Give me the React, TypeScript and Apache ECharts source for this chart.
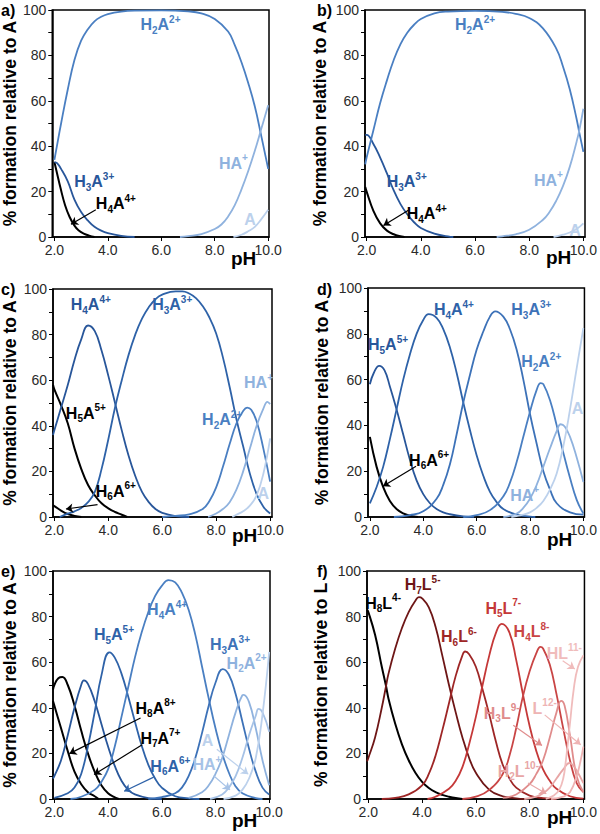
import React, { useEffect, useRef } from "react";
import * as echarts from "echarts";

// ---------------- Panel a ----------------
const aH4A = [[2.0,33],[2.1,28],[2.22,22],[2.4,14],[2.57,8.8],[2.75,5],[2.9,3],[3.1,1.5],[3.3,0.6],[3.5,0]];
const aH3A = [[2.0,33],[2.1,32.5],[2.25,30],[2.5,24.5],[2.75,16.5],[3.0,11],[3.25,7.3],[3.5,4.5],[3.75,2.8],[4.0,1.7],[4.5,0.5],[5.0,0]];
const aH2A = [[2.0,34],[2.25,50],[2.5,65],[2.75,78],[3.0,86.5],[3.25,91.5],[3.5,95],[3.75,97],[4.0,98.2],[4.5,99.3],[5.0,99.7],[6.0,99.8],[7.0,99.4],[7.5,98.5],[8.0,96],[8.5,90.5],[8.75,84.5],[9.0,77],[9.25,68],[9.5,57.5],[9.75,44],[10.0,30]];
const aHA = [[6.7,0],[7.0,0.4],[7.5,1.3],[8.0,3.5],[8.25,5.5],[8.5,9],[8.75,14],[9.0,21],[9.25,29],[9.5,38],[9.75,48],[10.0,58]];
const aA = [[8.7,0],[9.0,1],[9.25,2.5],[9.5,4.5],[9.75,8],[10.0,12]];

// ---------------- Panel b ----------------
const bH4A = [[1.95,22],[2.0,20],[2.25,11.5],[2.5,6],[2.75,2.8],[3.0,1.2],[3.2,0.4],[3.4,0]];
const bH3A = [[1.95,45],[2.0,45],[2.25,41],[2.5,35],[2.75,28],[3.0,20.5],[3.25,14.5],[3.5,10],[3.75,6.5],[4.0,4],[4.5,1.5],[5.0,0.3],[5.2,0]];
const bH2A = [[1.95,32],[2.0,35],[2.25,47],[2.5,59],[2.75,69],[3.0,78],[3.25,85],[3.5,90],[3.75,93.5],[4.0,96],[4.5,98.5],[5.0,99.3],[6.0,99.6],[7.0,99.2],[7.5,98.3],[8.0,96.5],[8.5,92],[9.0,83],[9.25,75],[9.5,65],[9.75,52],[9.85,46],[10.0,37.5]];
const bHA = [[6.8,0],[7.0,0.3],[7.5,1.2],[8.0,3.2],[8.5,7.5],[8.75,11],[9.0,16],[9.25,22.5],[9.5,31],[9.75,42],[9.85,47],[10.0,56.5]];
const bA = [[8.9,0],[9.25,1],[9.5,2],[9.75,3.5],[10.0,6]];

// ---------------- Panel c ----------------
const cH6A = [[1.95,5],[2.0,4.8],[2.25,2.8],[2.5,1.3],[2.75,0.5],[3.0,0]];
const cH5A = [[1.95,58],[2.0,56],[2.25,49],[2.5,41],[2.75,30],[3.0,21],[3.25,14],[3.5,9.5],[3.75,6],[4.0,3.8],[4.25,2.2],[4.5,1],[4.7,0]];
const cH4A = [[1.95,36],[2.0,38],[2.25,48],[2.5,58],[2.75,69],[3.0,78],[3.25,84],[3.5,81.5],[3.75,73],[4.0,62],[4.25,50],[4.5,38],[4.75,27],[5.0,18],[5.25,11],[5.5,6.5],[5.75,3.5],[6.0,1.8],[6.5,0.4],[7.0,0]];
const cH3A = [[2.2,0],[2.5,1.5],[2.75,2.5],[3.0,4],[3.25,6.5],[3.5,11],[3.75,21],[4.0,34],[4.25,48],[4.5,60],[4.75,71],[5.0,80],[5.25,87],[5.5,92],[5.75,95.5],[6.0,97.5],[6.5,99],[6.75,99],[7.0,98],[7.25,96],[7.5,92.5],[7.75,87.5],[8.0,80.5],[8.25,70],[8.5,57],[8.75,43],[9.0,31],[9.25,19],[9.5,10],[9.75,4.5],[10.0,1.5]];
const cH2A = [[6.0,0],[6.5,0.5],[7.0,1.2],[7.5,3.5],[7.75,7],[8.0,13],[8.25,22],[8.5,32],[8.75,41],[9.0,46.5],[9.15,48],[9.3,47],[9.5,42],[9.75,30],[10.0,15.5]];
const cHA = [[7.7,0],[8.0,1.5],[8.25,3.5],[8.5,6.5],[8.75,12],[9.0,20],[9.25,30],[9.5,40],[9.75,47.5],[9.9,50.5],[10.0,49.5]];
const cA = [[8.6,0],[8.75,1],[9.0,2.5],[9.25,5],[9.5,9.5],[9.75,19],[10.0,34.5]];

// ---------------- Panel d ----------------
const dH6A = [[2.0,35],[2.25,22],[2.5,13],[2.75,7],[3.0,3.5],[3.25,1.6],[3.5,0.6],[3.8,0]];
const dH5A = [[2.0,58],[2.15,63],[2.35,66],[2.55,64],[2.75,57],[3.0,47],[3.25,36],[3.5,25],[3.75,16],[4.0,10],[4.25,6],[4.5,3.5],[4.75,2],[5.0,1.2],[5.5,0.3],[5.9,0]];
const dH4A = [[2.0,6],[2.25,13],[2.5,22],[2.75,34],[3.0,47],[3.25,60],[3.5,71],[3.75,80],[4.0,86],[4.2,88.6],[4.5,87],[4.75,82],[5.0,74],[5.25,63],[5.5,50],[5.75,38],[6.0,27],[6.25,18],[6.5,11],[6.75,6.5],[7.0,3.5],[7.5,1],[8.0,0.2],[8.2,0]];
const dH3A = [[2.9,0],[3.5,0.8],[4.0,2.5],[4.5,8],[4.75,14],[5.0,23],[5.25,36],[5.5,50],[5.75,62],[6.0,73],[6.25,81],[6.5,87.5],[6.7,89.8],[7.0,87.5],[7.25,82],[7.5,73],[7.75,60],[8.0,45],[8.25,32],[8.5,20],[8.75,12],[9.0,6],[9.5,2],[10.0,1]];
const dH2A = [[5.5,0],[6.0,0.8],[6.5,3],[7.0,9],[7.25,15],[7.5,24],[7.75,35],[8.0,46],[8.25,55.5],[8.4,58.5],[8.5,58],[8.75,51],[9.0,40],[9.25,28],[9.5,17],[9.75,7.5],[10.0,1.5]];
const dHA = [[7.0,0],[7.5,1.5],[7.75,4],[8.0,8],[8.25,14],[8.5,22],[8.75,30],[9.0,37.5],[9.15,40.5],[9.3,39.5],[9.5,35],[9.75,26],[10.0,15.3]];
const dA = [[7.3,0],[7.75,1],[8.0,2],[8.25,4],[8.5,7],[8.75,12],[9.0,19],[9.25,31],[9.5,47],[9.75,65],[10.0,82.5]];

// ---------------- Panel e ----------------
const eH8A = [[1.95,43],[2.0,41],[2.25,31],[2.5,21],[2.75,12],[3.0,6.5],[3.25,3],[3.5,1.2],[3.65,0]];
const eH7A = [[1.95,48],[2.0,50],[2.15,53],[2.3,53.5],[2.5,50],[2.75,41],[3.0,30],[3.25,20],[3.5,12],[3.75,6],[4.0,2.5],[4.2,1],[4.4,0]];
const eH6A = [[1.95,9],[2.0,10],[2.25,17],[2.5,28],[2.75,40],[3.0,50],[3.1,52],[3.25,50.5],[3.5,43],[3.75,33],[4.0,23],[4.25,14.5],[4.5,8],[4.75,4],[5.0,2],[5.5,0.4],[6.0,0]];
const eH5A = [[2.0,0.5],[2.5,2.5],[2.75,5],[3.0,11],[3.25,23],[3.5,38],[3.75,54],[4.05,64.3],[4.25,62],[4.5,55],[4.75,45],[5.0,34],[5.25,23.5],[5.5,15],[5.75,9],[6.0,5],[6.5,1.2],[7.0,0.3],[7.4,0]];
const eH4A = [[2.6,0],[3.0,1],[3.5,4],[3.75,7.5],[4.0,13],[4.25,23],[4.5,36],[4.75,49],[5.0,62],[5.25,73],[5.5,82],[5.75,89],[6.0,93.5],[6.25,96],[6.5,95],[6.75,90.5],[7.0,83],[7.25,72],[7.5,58],[7.75,44],[8.0,31],[8.25,20],[8.5,11.5],[8.75,5.5],[9.0,2.5],[9.5,0.4],[9.75,0]];
const eH3A = [[5.5,0],[6.0,0.8],[6.5,2.5],[6.75,5],[7.0,10],[7.25,18],[7.5,29],[7.75,41],[8.0,51],[8.27,57],[8.5,54.5],[8.75,46],[9.0,34],[9.25,22],[9.5,12],[9.75,5],[10.0,2]];
const eH2A = [[7.0,0.5],[7.5,3],[7.75,6],[8.0,11],[8.25,18],[8.5,28],[8.75,38],[9.0,45.5],[9.05,45.7],[9.25,42.5],[9.5,31],[9.75,17],[10.0,6]];
const eHA = [[7.8,0],[8.25,2],[8.5,5],[8.75,10],[9.0,18],[9.25,28],[9.5,36.5],[9.6,39.5],[9.75,38],[10.0,29.5]];
const eA = [[8.3,0],[8.75,1.5],[9.0,4],[9.25,9],[9.5,18],[9.75,37],[10.0,64.5]];

// ---------------- Panel f ----------------
const fH8L = [[1.95,83],[2.0,82],[2.25,72],[2.5,58],[2.65,50],[2.75,44],[3.0,33],[3.25,24],[3.5,17],[3.75,11.5],[4.0,7.5],[4.25,4.8],[4.5,3],[4.75,1.8],[5.0,1],[5.25,0.4],[5.5,0]];
const fH7L = [[1.95,16.5],[2.0,18],[2.25,27],[2.5,40],[2.65,49],[2.75,55],[3.0,66],[3.25,75],[3.5,82],[3.75,87],[3.88,88.5],[4.0,88],[4.25,84],[4.5,75.5],[4.75,63],[5.0,50],[5.25,38],[5.5,27],[5.75,18],[6.0,11.5],[6.5,4],[7.0,1.2],[7.5,0.3],[7.8,0]];
const fH6L = [[2.5,0],[3.0,0.5],[3.5,2],[4.0,6],[4.25,11],[4.5,19],[4.75,30],[5.0,42],[5.25,54],[5.5,63],[5.6,64.7],[5.75,63.5],[6.0,58],[6.25,48],[6.5,37],[6.75,25],[7.0,15],[7.25,9],[7.5,5],[8.0,1.5],[8.5,0.4],[9.0,0]];
const fH5L = [[4.2,0],[4.5,1],[5.0,4.5],[5.25,8],[5.5,14],[5.75,24],[6.0,36],[6.25,50],[6.5,63],[6.75,73],[6.96,76.8],[7.25,73],[7.5,61],[7.75,46],[8.0,32],[8.25,21],[8.5,13],[8.75,8],[9.0,4.5],[9.5,1.2],[10.0,0.2]];
const fH4L = [[5.5,0],[6.0,1],[6.5,4],[7.0,11],[7.25,19],[7.5,31],[7.75,45],[8.0,56],[8.25,64],[8.4,66.7],[8.5,66],[8.75,59],[9.0,46],[9.25,31],[9.5,17],[9.75,7],[10.0,3]];
const fH3L = [[7.0,0.5],[7.5,2],[8.0,6.5],[8.25,11],[8.5,17],[8.75,27],[9.0,38],[9.17,43],[9.3,41],[9.5,28],[9.75,10],[10.0,3]];
const fH2L = [[7.8,0],[8.25,1],[8.5,2.5],[8.75,5],[9.0,9],[9.25,13],[9.48,15.8],[9.6,15],[9.75,12.5],[10.0,7]];
const fHL = [[8.6,0],[8.9,1.5],[9.1,4],[9.25,9],[9.35,17],[9.5,33],[9.65,49],[9.8,58],[10.0,63]];
const fL = [[8.8,0],[9.25,1],[9.5,3],[9.75,10],[9.9,17],[10.0,23]];

// ---------------- styling ----------------
const FONT = '"Liberation Sans", Arial, Helvetica, sans-serif';
const BLACK = "#000000";
const B1 = "#28569a";
const B2 = "#2e62a8";
const B3 = "#3d72b8";
const B4 = "#4a7fc2";
const BL1 = "#8fb2de";
const BL2 = "#a6c2e6";
const BL3 = "#bcd1ec";
const R1 = "#6e1616";
const R2 = "#9e2626";
const R3 = "#c53838";
const R4 = "#c94545";
const P1 = "#e08c8c";
const P2 = "#e8a6a6";
const P3 = "#f0bcbc";
const P4 = "#eeb4b4";

type Curve = { data: number[][]; color: string; width?: number };
type Lbl = { parts: string[]; x: number; y: number; color: string };
type Arrow = { from: number[]; to: number[]; color: string };
type Panel = {
  tag: string; tagX: number; tagY: number; phX: number; phY: number;
  grid: { left: number; top: number; width: number; height: number };
  xMin: number; xMax: number; yName: string; nameGap: number;
  curves: Curve[]; labels: Lbl[]; arrows: Arrow[];
};

const panels: Panel[] = [
  {
    tag: "a)", tagX: 1, tagY: 2, phX: 231, phY: 249,
    grid: { left: 51, top: 10, width: 218, height: 227 }, xMin: 1.92, xMax: 10.03,
    yName: "% formation relative to A", nameGap: 33,
    curves: [
      { data: aH4A, color: BLACK, width: 2 }, { data: aH3A, color: B1 }, { data: aH2A, color: B4 },
      { data: aHA, color: BL1 }, { data: aA, color: BL3 },
    ],
    labels: [
      { parts: ["H", "_2", "A", "^2+"], x: 5.97, y: 93.4, color: B4 },
      { parts: ["H", "_3", "A", "^3+"], x: 3.49, y: 24.3, color: B1 },
      { parts: ["H", "_4", "A", "^4+"], x: 4.3, y: 14.7, color: BLACK },
      { parts: ["HA", "^+"], x: 8.7, y: 32.4, color: BL1 },
      { parts: ["A"], x: 9.32, y: 7.6, color: BL3 },
    ],
    arrows: [{ from: [3.55, 12], to: [2.62, 5.6], color: BLACK }],
  },
  {
    tag: "b)", tagX: 317, tagY: 2, phX: 546, phY: 248,
    grid: { left: 365, top: 10, width: 220, height: 227 }, xMin: 1.94, xMax: 10.06,
    yName: "% formation relative to A", nameGap: 36,
    curves: [
      { data: bH4A, color: BLACK, width: 2 }, { data: bH3A, color: B1 }, { data: bH2A, color: B4 },
      { data: bHA, color: BL1 }, { data: bA, color: BL3 },
    ],
    labels: [
      { parts: ["H", "_2", "A", "^2+"], x: 6.0, y: 93.4, color: B4 },
      { parts: ["H", "_3", "A", "^3+"], x: 3.48, y: 24.3, color: B1 },
      { parts: ["H", "_4", "A", "^4+"], x: 4.22, y: 10.3, color: BLACK },
      { parts: ["HA", "^+"], x: 8.71, y: 25, color: BL1 },
      { parts: ["A"], x: 9.69, y: 2.9, color: BL3 },
    ],
    arrows: [{ from: [3.54, 11.8], to: [2.62, 5.1], color: BLACK }],
  },
  {
    tag: "c)", tagX: 1, tagY: 281, phX: 232, phY: 526,
    grid: { left: 52, top: 289, width: 220, height: 228 }, xMin: 1.95, xMax: 10.07,
    yName: "% formation relative to A", nameGap: 34,
    curves: [
      { data: cH6A, color: BLACK, width: 2 }, { data: cH5A, color: BLACK, width: 2 },
      { data: cH4A, color: B1 }, { data: cH3A, color: B2 }, { data: cH2A, color: B4 },
      { data: cHA, color: BL1 }, { data: cA, color: BL3 },
    ],
    labels: [
      { parts: ["H", "_4", "A", "^4+"], x: 3.35, y: 93, color: B1 },
      { parts: ["H", "_3", "A", "^3+"], x: 6.37, y: 93, color: B2 },
      { parts: ["H", "_5", "A", "^5+"], x: 3.17, y: 45.6, color: BLACK },
      { parts: ["H", "_6", "A", "^6+"], x: 4.28, y: 11.3, color: BLACK },
      { parts: ["H", "_2", "A", "^2+"], x: 8.22, y: 42.7, color: B4 },
      { parts: ["HA", "^+"], x: 9.57, y: 58.8, color: BL1 },
      { parts: ["A"], x: 9.75, y: 10.5, color: BL3 },
    ],
    arrows: [{ from: [3.6, 5.4], to: [2.43, 3.5], color: BLACK }],
  },
  {
    tag: "d)", tagX: 317, tagY: 281, phX: 547, phY: 530,
    grid: { left: 368, top: 288, width: 219, height: 229 }, xMin: 1.93, xMax: 10.04,
    yName: "% formation relative to A", nameGap: 37,
    curves: [
      { data: dH6A, color: BLACK, width: 2 }, { data: dH5A, color: B1 }, { data: dH4A, color: B2 },
      { data: dH3A, color: B3 }, { data: dH2A, color: B4 }, { data: dHA, color: BL1 }, { data: dA, color: BL3 },
    ],
    labels: [
      { parts: ["H", "_5", "A", "^5+"], x: 2.68, y: 75.2, color: B1 },
      { parts: ["H", "_4", "A", "^4+"], x: 5.15, y: 90.5, color: B2 },
      { parts: ["H", "_3", "A", "^3+"], x: 8.05, y: 90.5, color: B3 },
      { parts: ["H", "_2", "A", "^2+"], x: 8.42, y: 67.9, color: B4 },
      { parts: ["A"], x: 9.78, y: 47.4, color: BL3 },
      { parts: ["HA", "^+"], x: 7.8, y: 9.5, color: BL1 },
      { parts: ["H", "_6", "A", "^6+"], x: 4.22, y: 24.8, color: BLACK },
    ],
    arrows: [{ from: [3.73, 22.2], to: [2.49, 13.4], color: BLACK }],
  },
  {
    tag: "e)", tagX: 1, tagY: 563, phX: 232, phY: 811,
    grid: { left: 52, top: 571, width: 218, height: 228 }, xMin: 1.95, xMax: 10.03,
    yName: "% formation relative to A", nameGap: 34,
    curves: [
      { data: eH8A, color: BLACK, width: 2 }, { data: eH7A, color: BLACK, width: 2 },
      { data: eH6A, color: B1 }, { data: eH5A, color: B2 }, { data: eH4A, color: B4 },
      { data: eH3A, color: B3 }, { data: eH2A, color: BL1 }, { data: eHA, color: BL2 }, { data: eA, color: BL3 },
    ],
    labels: [
      { parts: ["H", "_5", "A", "^5+"], x: 4.22, y: 72, color: B2 },
      { parts: ["H", "_4", "A", "^4+"], x: 6.2, y: 83, color: B4 },
      { parts: ["H", "_3", "A", "^3+"], x: 8.54, y: 67.6, color: B3 },
      { parts: ["H", "_2", "A", "^2+"], x: 9.16, y: 59.6, color: BL1 },
      { parts: ["H", "_8", "A", "^8+"], x: 5.77, y: 39.9, color: BLACK },
      { parts: ["H", "_7", "A", "^7+"], x: 5.95, y: 26.7, color: BLACK },
      { parts: ["H", "_6", "A", "^6+"], x: 6.32, y: 14.3, color: B2 },
      { parts: ["A"], x: 7.7, y: 25.5, color: BL3 },
      { parts: ["HA", "^+"], x: 7.68, y: 15, color: BL2 },
    ],
    arrows: [
      { from: [5.21, 35.5], to: [2.56, 19.9], color: BLACK },
      { from: [5.27, 23.8], to: [3.48, 10.7], color: BLACK },
      { from: [5.7, 9.6], to: [4.6, 3.4], color: B2 },
      { from: [8.05, 21.8], to: [9.22, 10.9], color: BL3 },
      { from: [7.93, 10.2], to: [8.54, 4], color: BL2 },
    ],
  },
  {
    tag: "f)", tagX: 317, tagY: 563, phX: 547, phY: 808,
    grid: { left: 367, top: 571, width: 220, height: 228 }, xMin: 1.95, xMax: 10.04,
    yName: "% formation relative to L", nameGap: 37,
    curves: [
      { data: fH8L, color: BLACK, width: 2 }, { data: fH7L, color: R1 }, { data: fH6L, color: R2 },
      { data: fH5L, color: R3 }, { data: fH4L, color: R4 }, { data: fH3L, color: P1 },
      { data: fH2L, color: P2 }, { data: fHL, color: P3 }, { data: fL, color: P4 },
    ],
    labels: [
      { parts: ["H", "_8", "L", "^4-"], x: 2.55, y: 85.8, color: BLACK },
      { parts: ["H", "_7", "L", "^5-"], x: 4.02, y: 93.9, color: R1 },
      { parts: ["H", "_6", "L", "^6-"], x: 5.37, y: 71.2, color: R2 },
      { parts: ["H", "_5", "L", "^7-"], x: 7.02, y: 83.6, color: R3 },
      { parts: ["H", "_4", "L", "^8-"], x: 8.07, y: 73.4, color: R4 },
      { parts: ["HL", "^11-"], x: 9.29, y: 64, color: P3 },
      { parts: ["H", "_3", "L", "^9-"], x: 6.96, y: 37.7, color: P1 },
      { parts: ["L", "^12-"], x: 8.56, y: 39.9, color: P4 },
      { parts: ["H", "_2", "L", "^10-"], x: 7.58, y: 12.1, color: P2 },
    ],
    arrows: [
      { from: [9.23, 60.6], to: [9.68, 57], color: P3 },
      { from: [7.39, 32.3], to: [8.46, 23.5], color: P1 },
      { from: [8.56, 36.9], to: [9.9, 23.8], color: P4 },
      { from: [7.94, 7], to: [8.62, 2.3], color: P2 },
    ],
  },
];

const fmt = (parts: string[]) =>
  parts
    .map((p) => (p[0] === "_" ? `{s|${p.slice(1)}}` : p[0] === "^" ? `{p|${p.slice(1)}}` : `{m|${p}}`))
    .join("");

const richFor = (color: string) => ({
  m: { fontSize: 16, fontWeight: "bold", color, fontFamily: FONT, lineHeight: 21 },
  s: { fontSize: 10, fontWeight: "bold", color, fontFamily: FONT, verticalAlign: "bottom", lineHeight: 13 },
  p: { fontSize: 10, fontWeight: "bold", color, fontFamily: FONT, verticalAlign: "top", lineHeight: 12 },
});

function buildOption() {
  const grid: any[] = [];
  const xAxis: any[] = [];
  const yAxis: any[] = [];
  const series: any[] = [];
  const graphic: any[] = [];

  panels.forEach((p, i) => {
    grid.push({ ...p.grid, show: true, borderColor: "#000", borderWidth: 1.5, backgroundColor: "transparent" });
    xAxis.push({
      type: "value", gridIndex: i, min: p.xMin, max: p.xMax,
      axisLine: { show: true, onZero: false, lineStyle: { color: "#000", width: 1.5 } },
      axisTick: { show: true, customValues: [2, 4, 6, 8, 10], length: 4, lineStyle: { color: "#000" } },
      axisLabel: {
        customValues: [2, 4, 6, 8, 10], formatter: (v: number) => v.toFixed(1),
        fontSize: 14, color: "#2a2a2a", fontFamily: FONT, margin: 6,
      },
      splitLine: { show: false },
    });
    yAxis.push({
      type: "value", gridIndex: i, min: 0, max: 100, interval: 10,
      axisLine: { show: true, lineStyle: { color: "#000", width: 1.5 } },
      axisTick: { show: true, length: 4, lineStyle: { color: "#000" } },
      axisLabel: {
        formatter: (v: number) => (v % 20 === 0 ? String(v) : ""),
        fontSize: 14, color: "#2a2a2a", fontFamily: FONT, margin: 6,
      },
      splitLine: { show: false },
      name: p.yName, nameLocation: "middle", nameGap: p.nameGap,
      nameTextStyle: { fontSize: 17.5, fontWeight: "bold", color: "#000", fontFamily: FONT },
    });
    p.curves.forEach((c) => {
      series.push({
        type: "line", xAxisIndex: i, yAxisIndex: i, data: c.data,
        smooth: 0.45, symbol: "none", showSymbol: false,
        lineStyle: { color: c.color, width: c.width ?? 1.8 }, itemStyle: { color: c.color },
        z: 2, silent: true,
      });
    });
    series.push({
      type: "lines", coordinateSystem: "cartesian2d", xAxisIndex: i, yAxisIndex: i,
      symbol: ["none", "arrow"], symbolSize: 7, silent: true, z: 4,
      data: p.arrows.map((a) => ({ coords: [a.from, a.to], lineStyle: { color: a.color, width: 1.2, opacity: 1 } })),
    });
    series.push({
      type: "scatter", xAxisIndex: i, yAxisIndex: i, symbolSize: 1, silent: true, z: 5,
      itemStyle: { color: "rgba(0,0,0,0)" },
      data: p.labels.map((l) => ({
        value: [l.x, l.y],
        label: { show: true, position: "inside", formatter: fmt(l.parts), rich: richFor(l.color), opacity: 1 },
      })),
    });
    graphic.push({
      type: "text", left: p.tagX, top: p.tagY,
      style: { text: p.tag, font: `bold 16px ${FONT}`, fill: "#000" },
    });
    graphic.push({
      type: "text", left: p.phX, top: p.phY,
      style: { text: "pH", font: `bold 19px ${FONT}`, fill: "#000" },
    });
  });

  return { animation: false, backgroundColor: "#fff", grid, xAxis, yAxis, series, graphic };
}

export default function App() {
  const ref = useRef<HTMLDivElement>(null);
  useEffect(() => {
    document.body.style.margin = "0";
    if (!ref.current) return;
    const chart = echarts.init(ref.current, undefined, { renderer: "svg" });
    chart.setOption(buildOption() as any);
    return () => chart.dispose();
  }, []);
  return <div ref={ref} style={{ width: 600, height: 834 }} />;
}
